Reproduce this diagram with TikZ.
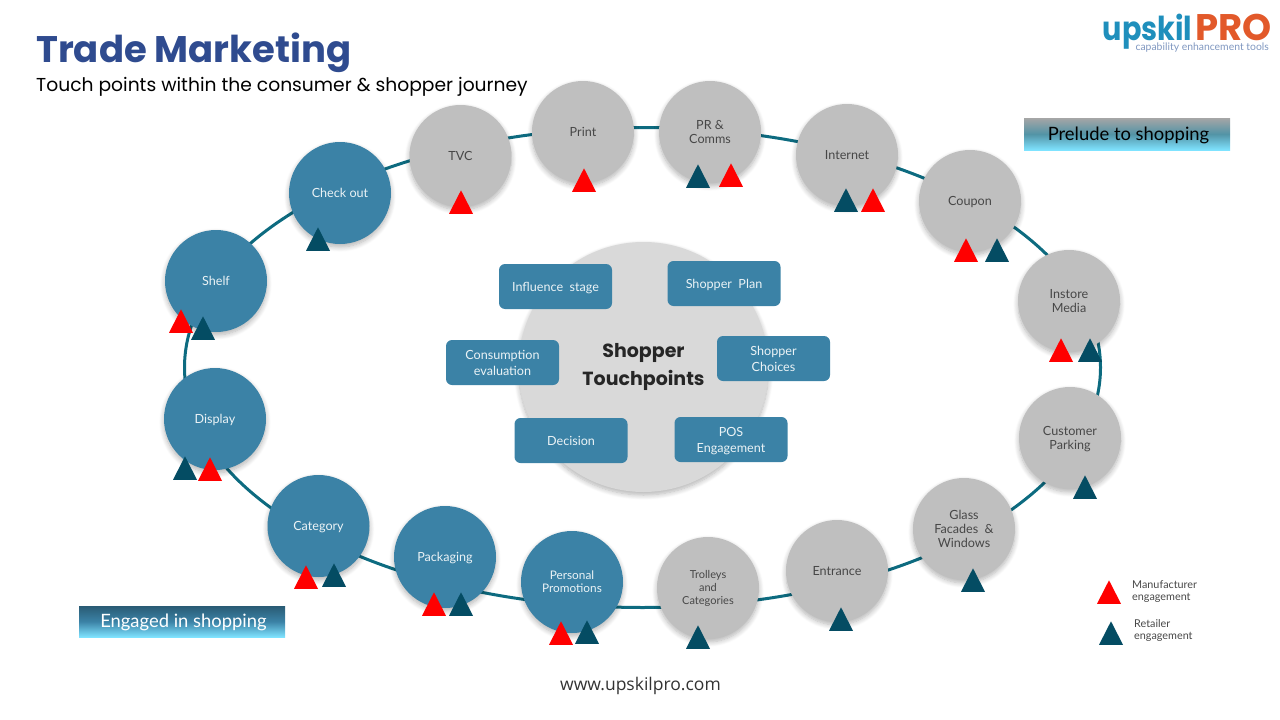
\documentclass[tikz,border=0pt]{standalone}
\usepackage{fontspec}
\setmainfont{Lato}
\newfontfamily\pop{Poppins}
\newfontfamily\osans{Open Sans}
\usetikzlibrary{shapes.geometric,shadows.blur}
\newcommand{\dnl}[2][3pt]{\vbox{\vskip #1\hbox{\begin{tabular}{@{}c@{}}#2\end{tabular}}}}
\definecolor{tealc}{HTML}{3B82A6}
\definecolor{grayc}{HTML}{BFBFBF}
\definecolor{centerc}{HTML}{D9D9D9}
\definecolor{tridark}{HTML}{044C63}
\definecolor{ringc}{HTML}{0D6B80}
\definecolor{titlec}{HTML}{2F4B8F}
\definecolor{logoteal}{HTML}{1F8FBC}
\definecolor{logoorange}{HTML}{E2592A}
\definecolor{logosub}{HTML}{7F97C0}
\definecolor{cyanb}{HTML}{7FE3FF}
\tikzset{
  x=1pt,y=-1pt,
  softshadow/.style={blur shadow={shadow xshift=0pt,shadow yshift=-3pt,shadow blur radius=5pt,shadow blur steps=8,shadow opacity=30}},
  touch/.style={circle,minimum size=102pt,inner sep=0pt,align=center,softshadow,
     font=\fontsize{12.6}{14}\selectfont},
  graytouch/.style={touch,fill=grayc,text=black!72},
  tealtouch/.style={touch,fill=tealc,text=white!90!tealc},
  stagebox/.style={rectangle,rounded corners=6pt,fill=tealc,minimum width=113pt,minimum height=45pt,
     inner sep=0pt,align=center,text=white!90!tealc,font=\fontsize{12.6}{16}\selectfont},
  trimark/.style={isosceles triangle,isosceles triangle apex angle=54,shape border rotate=90,
     anchor=lower side,inner sep=0pt,minimum height=23.5pt,minimum width=24pt,draw=none,isosceles triangle stretches},
  redmark/.style={trimark,fill=red},
  darkmark/.style={trimark,fill=tridark},
  legendtext/.style={anchor=west,align=left,inner sep=0pt,text=black!72,font=\fontsize{10.8}{12}\selectfont},
  bandtext/.style={rectangle,minimum width=206pt,inner sep=0pt,align=center,font=\fontsize{18.4}{22}\selectfont},
}
\begin{document}
\begin{tikzpicture}
\useasboundingbox (0,0) rectangle (1280,720);
\node[ellipse,draw=ringc,line width=3pt,minimum width=916pt,minimum height=480pt,inner sep=0pt] (ring) at (642.5,367.5) {};

\node[circle,fill=centerc,minimum size=250pt,inner sep=0pt,softshadow,align=center,text=black!85,
  font=\pop\bfseries\fontsize{19}{28}\selectfont] (hub) at (643.5,367) {Shopper\\Touchpoints};

\node[stagebox] (s1) at (555.5,286.5) {\dnl{Influence\ \ stage}};
\node[stagebox] (s2) at (724,283.5) {\dnl{Shopper\ \ Plan}};
\node[stagebox] (s3) at (773.5,358.5) {\dnl{Shopper\\Choices}};
\node[stagebox] (s4) at (502.5,362.5) {\dnl{Consumption\\evaluation}};
\node[stagebox] (s5) at (571,440.5) {\dnl{Decision}};
\node[stagebox] (s6) at (731,439.5) {\dnl{POS\\Engagement}};

\node[graytouch] (tvc) at (460.5,156) {\dnl{TVC}};
\node[graytouch] (print) at (583,132) {\dnl{Print}};
\node[graytouch] (pr) at (710,132) {\dnl{PR \&\\Comms}};
\node[graytouch] (internet) at (847,155) {\dnl{Internet}};
\node[graytouch] (coupon) at (970,201) {\dnl{Coupon}};
\node[graytouch] (instore) at (1069,301) {\dnl{Instore\\Media}};
\node[graytouch] (parking) at (1070,438) {\dnl{Customer\\Parking}};
\node[graytouch] (glass) at (964,529) {Glass\\Facades\ \ \&\\Windows};
\node[graytouch] (entrance) at (837,571) {\dnl{Entrance}};
\node[graytouch,font=\fontsize{11}{13}\selectfont] (trolleys) at (708,588) {Trolleys\\and\\Categories};
\node[tealtouch,font=\fontsize{11.8}{13}\selectfont] (personal) at (572,582) {\dnl{Personal\\Promotions}};
\node[tealtouch] (packaging) at (445,557) {\dnl{Packaging}};
\node[tealtouch] (category) at (318.5,526) {\dnl{Category}};
\node[tealtouch] (display) at (215,419) {\dnl{Display}};
\node[tealtouch] (shelf) at (216,281) {\dnl{Shelf}};
\node[tealtouch] (checkout) at (340,193) {Check\ out};

\node[redmark] (t1) at (461,214) {};
\node[redmark] (t2) at (584,192) {};
\node[darkmark] (t3) at (698,188) {};
\node[redmark] (t4) at (731,187) {};
\node[darkmark] (t5) at (846,212) {};
\node[redmark] (t6) at (873,212) {};
\node[redmark] (t7) at (966,262) {};
\node[darkmark] (t8) at (997,262) {};
\node[redmark] (t9) at (1061,362) {};
\node[darkmark] (t10) at (1090,362) {};
\node[darkmark] (t11) at (1085,499) {};
\node[darkmark] (t12) at (973,592) {};
\node[darkmark] (t13) at (841,631) {};
\node[darkmark] (t14) at (698,649) {};
\node[redmark] (t15) at (561,645) {};
\node[darkmark] (t16) at (587,644) {};
\node[redmark] (t17) at (434,616) {};
\node[darkmark] (t18) at (461,616) {};
\node[redmark] (t19) at (306,589) {};
\node[darkmark] (t20) at (334,587) {};
\node[darkmark] (t21) at (185,480) {};
\node[redmark] (t22) at (210,481) {};
\node[redmark] (t23) at (181,333) {};
\node[darkmark] (t24) at (203,340) {};
\node[darkmark] (t25) at (318,251) {};

\node[bandtext,minimum height=32pt,
  top color=black!35,bottom color=cyanb,middle color=black!35!cyanb,text=black] (prelude) at (1127,134) {\dnl[4pt]{\hspace*{3pt}Prelude to shopping}};
\node[bandtext,minimum height=31pt,
  top color=tealc!70!black,bottom color=cyanb,middle color=tealc,text=white] (engaged) at (182,621.5) {\dnl[4pt]{\hspace*{3pt}Engaged in shopping}};

\node[anchor=base west,inner sep=0pt,text=titlec,font=\pop\bfseries\fontsize{37}{40}\selectfont] (title) at (36,62.5) {Trade Marketing};
\node[anchor=base west,inner sep=0pt,text=black,font=\pop\fontsize{18.7}{22}\selectfont] (subtitle) at (36,91) {Touch points within the consumer \& shopper journey};

\node[anchor=base east,inner sep=0pt,text=logoteal,font=\pop\bfseries\fontsize{33}{34}\selectfont] (logoa) at (1192.5,40) {\scalebox{0.87}[1]{upskil}};
\node[anchor=base west,inner sep=0pt,text=logoorange,font=\pop\bfseries\fontsize{37}{36}\selectfont] (logob) at (1195,40) {PRO};
\node[anchor=base east,inner sep=0pt,text=logosub,font=\fontsize{10.4}{10}\selectfont] (logoc) at (1269,50) {capability enhancement tools};

\node[redmark] (legr) at (1109,604) {};
\node[darkmark] (legd) at (1111,645) {};
\node[legendtext] (ltr) at (1132,592) {Manufacturer\\engagement};
\node[legendtext] (ltd) at (1134,631) {Retailer\\engagement};

\node[inner sep=0pt,text=black!80,font=\osans\fontsize{17.5}{18}\selectfont] (url) at (640.5,686) {www.upskilpro.com};
\end{tikzpicture}
\end{document}
